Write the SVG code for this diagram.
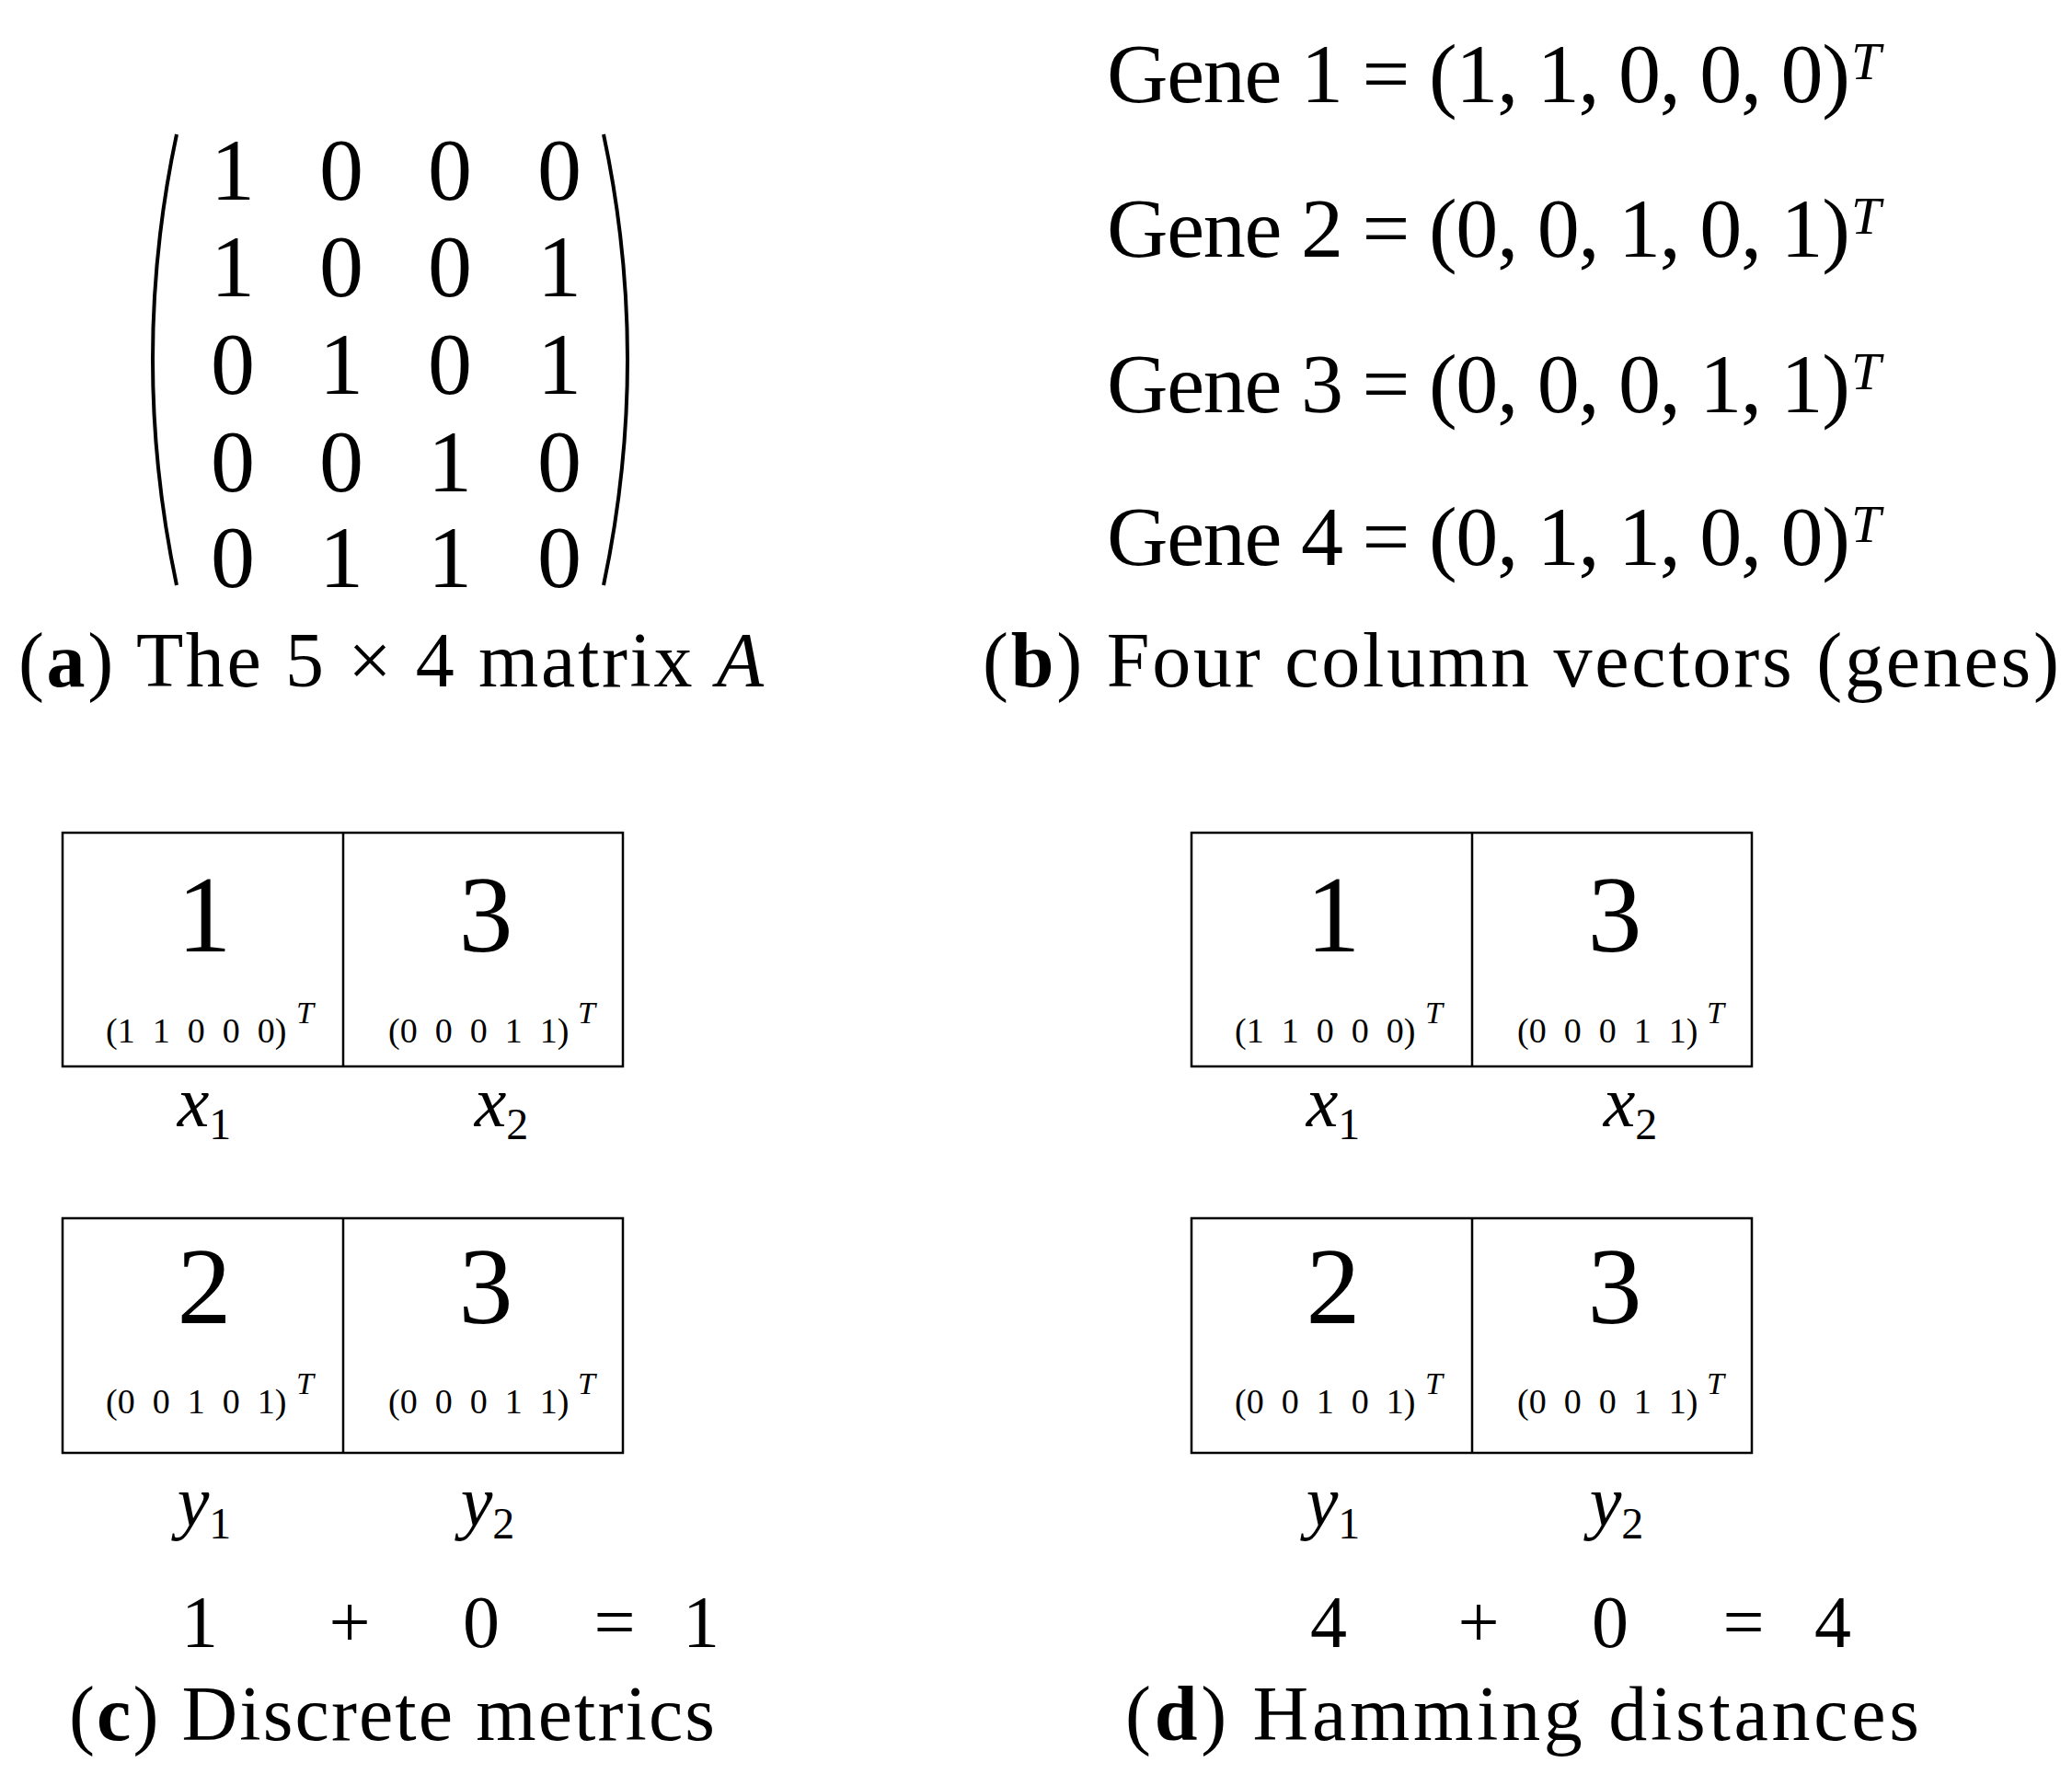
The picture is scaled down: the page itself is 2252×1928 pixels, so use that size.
<svg xmlns="http://www.w3.org/2000/svg" width="2252" height="1928" viewBox="0 0 2252 1928">
<style>
text{font-family:"Liberation Serif",serif;fill:#000}
.m{font-size:96px;text-anchor:middle}
.cap{font-size:84px}
.g{font-size:92px}
.gt{font-size:58px;font-style:italic}
.big{font-size:118px;text-anchor:middle}
.sm{font-size:38px}
.sup{font-size:34px;font-style:italic}
.lab{font-size:78px;font-style:italic;text-anchor:middle}
.sub{font-size:48px;font-style:normal}
.eq{font-size:80px;text-anchor:middle}
.box{fill:none;stroke:#000;stroke-width:2.5}
.par{fill:none;stroke:#000;stroke-width:4}
</style>
<g id="matrix">
<path class="par" d="M192,146 Q140,390 192,636"/>
<path class="par" d="M656,146 Q708,390 656,636"/>
<g class="m">
<text x="253" y="217" class="m">1</text><text x="371" y="217" class="m">0</text><text x="489" y="217" class="m">0</text><text x="608" y="217" class="m">0</text>
<text x="253" y="322" class="m">1</text><text x="371" y="322" class="m">0</text><text x="489" y="322" class="m">0</text><text x="608" y="322" class="m">1</text>
<text x="253" y="428" class="m">0</text><text x="371" y="428" class="m">1</text><text x="489" y="428" class="m">0</text><text x="608" y="428" class="m">1</text>
<text x="253" y="534" class="m">0</text><text x="371" y="534" class="m">0</text><text x="489" y="534" class="m">1</text><text x="608" y="534" class="m">0</text>
<text x="253" y="638" class="m">0</text><text x="371" y="638" class="m">1</text><text x="489" y="638" class="m">1</text><text x="608" y="638" class="m">0</text>
</g>
<text class="cap" x="20" y="746" textLength="810">(<tspan font-weight="bold">a</tspan>) The 5 × 4 matrix <tspan font-style="italic">A</tspan></text>
</g>
<g id="genes">
<text class="g" x="1203" y="111" textLength="808">Gene 1 = (1, 1, 0, 0, 0)</text><text class="gt" x="2012" y="86">T</text>
<text class="g" x="1203" y="279" textLength="808">Gene 2 = (0, 0, 1, 0, 1)</text><text class="gt" x="2012" y="254">T</text>
<text class="g" x="1203" y="448" textLength="808">Gene 3 = (0, 0, 0, 1, 1)</text><text class="gt" x="2012" y="423">T</text>
<text class="g" x="1203" y="614" textLength="808">Gene 4 = (0, 1, 1, 0, 0)</text><text class="gt" x="2012" y="589">T</text>
<text class="cap" x="1068" y="746" textLength="1170">(<tspan font-weight="bold">b</tspan>) Four column vectors (genes)</text>
</g>
<g id="panel-c">
<rect class="box" x="68" y="905" width="609" height="254"/><line class="box" x1="373" y1="905" x2="373" y2="1159"/>
<rect class="box" x="68" y="1324" width="609" height="255"/><line class="box" x1="373" y1="1324" x2="373" y2="1579"/>
<text class="big" x="222" y="1034">1</text><text class="big" x="528" y="1034">3</text>
<text class="sm" x="115" y="1133" xml:space="preserve">(1  1  0  0  0)</text><text class="sup" x="322" y="1112">T</text>
<text class="sm" x="422" y="1133" xml:space="preserve">(0  0  0  1  1)</text><text class="sup" x="628" y="1112">T</text>
<text class="lab" x="222" y="1224">x<tspan class="sub" dy="14">1</tspan></text>
<text class="lab" x="545" y="1224">x<tspan class="sub" dy="14">2</tspan></text>
<text class="big" x="222" y="1438">2</text><text class="big" x="528" y="1438">3</text>
<text class="sm" x="115" y="1536" xml:space="preserve">(0  0  1  0  1)</text><text class="sup" x="322" y="1515">T</text>
<text class="sm" x="422" y="1536" xml:space="preserve">(0  0  0  1  1)</text><text class="sup" x="628" y="1515">T</text>
<text class="lab" x="222" y="1658">y<tspan class="sub" dy="14">1</tspan></text>
<text class="lab" x="530" y="1658">y<tspan class="sub" dy="14">2</tspan></text>
<text class="eq" x="217" y="1790">1</text><text class="eq" x="380" y="1790">+</text><text class="eq" x="523" y="1790">0</text><text class="eq" x="668" y="1790">=</text><text class="eq" x="762" y="1790">1</text>
<text class="cap" x="75" y="1891" textLength="702">(<tspan font-weight="bold">c</tspan>) Discrete metrics</text>
</g>
<g id="panel-d">
<rect class="box" x="1295" y="905" width="609" height="254"/><line class="box" x1="1600" y1="905" x2="1600" y2="1159"/>
<rect class="box" x="1295" y="1324" width="609" height="255"/><line class="box" x1="1600" y1="1324" x2="1600" y2="1579"/>
<text class="big" x="1449" y="1034">1</text><text class="big" x="1755" y="1034">3</text>
<text class="sm" x="1342" y="1133" xml:space="preserve">(1  1  0  0  0)</text><text class="sup" x="1549" y="1112">T</text>
<text class="sm" x="1649" y="1133" xml:space="preserve">(0  0  0  1  1)</text><text class="sup" x="1855" y="1112">T</text>
<text class="lab" x="1449" y="1224">x<tspan class="sub" dy="14">1</tspan></text>
<text class="lab" x="1772" y="1224">x<tspan class="sub" dy="14">2</tspan></text>
<text class="big" x="1449" y="1438">2</text><text class="big" x="1755" y="1438">3</text>
<text class="sm" x="1342" y="1536" xml:space="preserve">(0  0  1  0  1)</text><text class="sup" x="1549" y="1515">T</text>
<text class="sm" x="1649" y="1536" xml:space="preserve">(0  0  0  1  1)</text><text class="sup" x="1855" y="1515">T</text>
<text class="lab" x="1449" y="1658">y<tspan class="sub" dy="14">1</tspan></text>
<text class="lab" x="1757" y="1658">y<tspan class="sub" dy="14">2</tspan></text>
<text class="eq" x="1444" y="1790">4</text><text class="eq" x="1607" y="1790">+</text><text class="eq" x="1750" y="1790">0</text><text class="eq" x="1895" y="1790">=</text><text class="eq" x="1992" y="1790">4</text>
<text class="cap" x="1223" y="1891" textLength="863">(<tspan font-weight="bold">d</tspan>) Hamming distances</text>
</g>
<g id="connectors"/>
</svg>
